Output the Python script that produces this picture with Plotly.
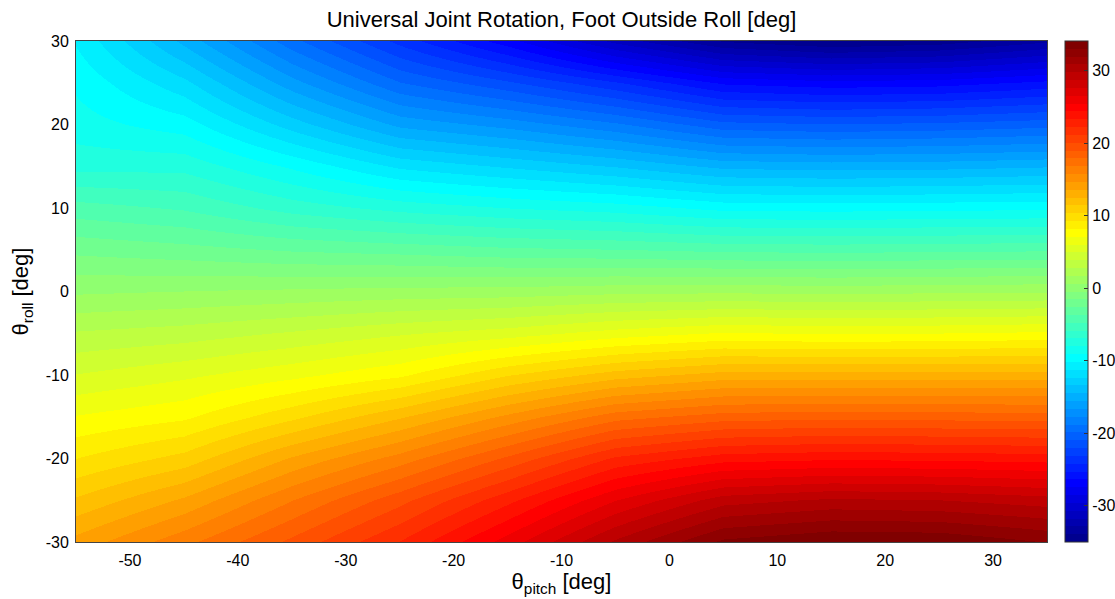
import numpy as np
import plotly.graph_objects as go

# Grid of pitch / roll angles [deg]
pitch_deg = [-55, -45, -35, -25, -15, -5, 5, 15, 25, 35]
roll_deg = [-30, -25, -20, -15, -10, -5, 0, 5, 10, 15, 20, 25, 30]

# Universal joint rotation [deg], one list per pitch angle (rows follow roll_deg)
rot_p55 = [14.0, 11.6, 9.3, 7.2, 5.0, 2.9, 0.5, -1.8, -4.3, -7.3, -8.6, -9.3, -10.3]
rot_p45 = [16.5, 13.8, 10.8, 8.0, 5.8, 3.3, 0.7, -2.2, -4.9, -7.3, -9.6, -12.0, -14.8]
rot_p35 = [19.3, 16.8, 13.8, 10.1, 6.8, 4.0, 0.9, -2.7, -6.3, -9.3, -12.8, -16.2, -19.5]
rot_p25 = [22.3, 19.7, 16.3, 12.4, 8.0, 4.8, 1.1, -3.0, -7.3, -11.5, -15.8, -19.8, -23.5]
rot_p15 = [26.0, 23.0, 19.3, 15.0, 10.3, 5.5, 1.2, -3.4, -8.0, -12.5, -17.0, -21.8, -27.0]
rot_m05 = [30.0, 26.5, 22.5, 17.5, 12.0, 6.5, 1.5, -3.6, -8.5, -13.5, -18.5, -24.0, -31.0]
rot_05 = [33.3, 29.3, 24.0, 18.5, 13.0, 7.2, 1.6, -3.9, -9.4, -14.8, -20.5, -26.5, -34.0]
rot_15 = [34.1, 30.0, 24.3, 18.7, 13.0, 7.0, 1.5, -4.0, -9.5, -15.0, -20.8, -27.0, -35.0]
rot_25 = [34.0, 29.8, 24.2, 18.6, 13.0, 7.1, 1.6, -3.9, -9.4, -14.9, -20.6, -26.8, -34.5]
rot_35 = [33.0, 29.2, 24.0, 18.5, 13.0, 7.3, 1.7, -3.8, -9.3, -14.6, -20.2, -26.0, -33.0]

columns = [rot_p55, rot_p45, rot_p35, rot_p25, rot_p15,
           rot_m05, rot_05, rot_15, rot_25, rot_35]
z = np.array(columns).T  # rows: roll, cols: pitch

x_ticks = [-50, -40, -30, -20, -10, 0, 10, 20, 30]
y_ticks = [-30, -20, -10, 0, 10, 20, 30]
cbar_ticks = [-30, -20, -10, 0, 10, 20, 30]

zmin, zmax = -35.0, 34.1

# 64-step jet colormap
n_steps = 64
def jet(t):
    r = np.clip(1.5 - abs(4 * t - 3), 0, 1)
    g = np.clip(1.5 - abs(4 * t - 2), 0, 1)
    b = np.clip(1.5 - abs(4 * t - 1), 0, 1)
    return f"rgb({int(round(r*255))},{int(round(g*255))},{int(round(b*255))})"

colorscale = []
for k in range(n_steps):
    c = jet((k + 1) / n_steps)
    colorscale.append([k / n_steps, c])
    colorscale.append([(k + 1) / n_steps, c])

font_family = "Liberation Sans, Arial, Helvetica, sans-serif"
tick_size = 16
label_size = 22

plot_w = 1115 - 76 - 68
cb_left = (1065 - 76) / plot_w

fig = go.Figure()
fig.add_trace(go.Heatmap(
    x=pitch_deg, y=roll_deg, z=z,
    zmin=zmin, zmax=zmax,
    colorscale=colorscale,
    zsmooth="best",
    colorbar=dict(
        x=cb_left, xanchor="left", xpad=0,
        y=0.5, yanchor="middle", len=1.0, lenmode="fraction", ypad=0,
        thickness=23, thicknessmode="pixels",
        outlinecolor="#333333", outlinewidth=1,
        tickmode="array", tickvals=cbar_ticks, ticktext=[str(v) for v in cbar_ticks],
        ticks="inside", ticklen=4, tickcolor="#333333",
        tickfont=dict(family=font_family, size=tick_size, color="black"),
    ),
))

# Tick marks on the left edge of the colour bar
for v in cbar_ticks:
    yp = (v - zmin) / (zmax - zmin)
    fig.add_shape(type="line", xref="paper", yref="paper",
                  x0=cb_left, x1=cb_left + 4 / plot_w, y0=yp, y1=yp,
                  line=dict(color="#333333", width=1))

fig.update_layout(
    width=1115, height=599,
    margin=dict(l=76, r=68, t=41, b=57, autoexpand=False),
    paper_bgcolor="white", plot_bgcolor="white",
    font=dict(family=font_family, size=tick_size, color="black"),
    title=dict(text="Universal Joint Rotation, Foot Outside Roll [deg]",
               x=0.5, xref="paper", xanchor="center",
               y=1, yref="paper", yanchor="bottom", pad=dict(b=14),
               font=dict(family=font_family, size=label_size, color="black")),
    xaxis=dict(range=[-55, 35], tickmode="array", tickvals=x_ticks,
               ticktext=[str(v) for v in x_ticks],
               showgrid=False, zeroline=False, ticks="",
               ticklabelstandoff=4,
               showline=True, linecolor="#444444", linewidth=1, mirror=True,
               title=dict(text="θ<sub>pitch</sub> [deg]", standoff=2,
                          font=dict(family=font_family, size=label_size)),
               tickfont=dict(family=font_family, size=tick_size)),
    yaxis=dict(range=[-30, 30], tickmode="array", tickvals=y_ticks,
               ticktext=[str(v) for v in y_ticks],
               showgrid=False, zeroline=False, ticks="",
               ticklabelstandoff=3,
               showline=True, linecolor="#444444", linewidth=1, mirror=True,
               title=dict(text="θ<sub>roll</sub> [deg]", standoff=10,
                          font=dict(family=font_family, size=label_size)),
               tickfont=dict(family=font_family, size=tick_size)),
)

fig.write_html("out.html")
